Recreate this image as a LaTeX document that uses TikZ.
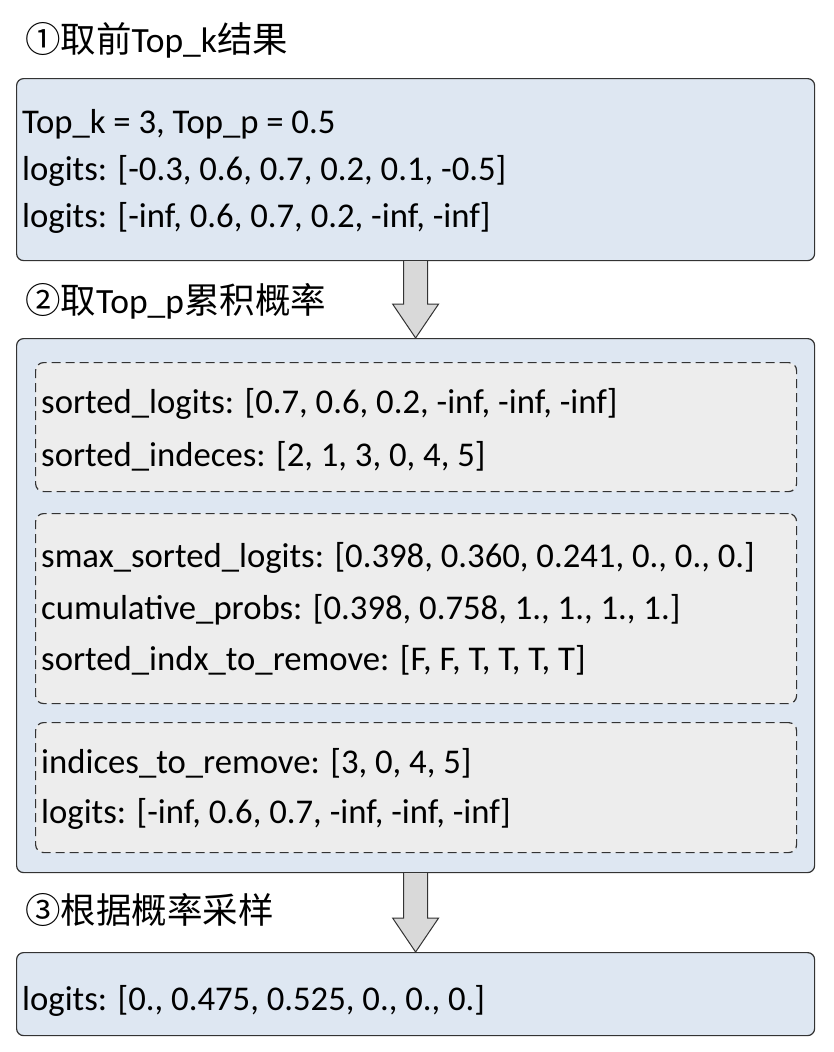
\documentclass[tikz,border=0pt]{standalone}
\usepackage{fontspec}
\setmainfont{Carlito}
\newfontfamily\cjk{Noto Sans CJK SC}
\usetikzlibrary{calc}
\definecolor{boxblue}{HTML}{DEE7F2}
\definecolor{boxgray}{HTML}{EDEDED}
\definecolor{arrowgray}{HTML}{D9D9D9}
\definecolor{edge}{HTML}{333333}
\tikzset{
  bluebox/.style={draw=edge, line width=1.2pt, fill=boxblue, rounded corners=7pt, anchor=north west, inner sep=0pt},
  graybox/.style={draw=edge, line width=1.2pt, fill=boxgray, rounded corners=8pt, anchor=north west, inner sep=0pt, dash pattern=on 9pt off 5pt},
  txt/.style={anchor=base west, inner sep=0pt, font=\fontsize{34.7}{40}\selectfont},
  title/.style={anchor=base west, inner sep=0pt, font=\fontsize{35.5}{40}\selectfont},
  blockarrow/.style={draw=edge, line width=1pt, fill=arrowgray, line join=miter}
}
\begin{document}
\begin{tikzpicture}[x=1pt,y=1pt]
\useasboundingbox[fill=white] (0,0) rectangle (834,-1052);
% titles
\node[title] (t1) at (25,-52) {{\cjk ①取前}Top\_k{\cjk 结果}};
\node[title] (t2) at (25,-313) {{\cjk ②取}Top\_p{\cjk 累积概率}};
\node[title] (t3) at (25,-923) {{\cjk ③根据概率采样}};
% boxes
\node[bluebox, minimum width=798pt, minimum height=182pt] (b1) at (16,-78) {};
\node[bluebox, minimum width=798pt, minimum height=534pt] (b2) at (16,-338) {};
\node[bluebox, minimum width=798pt, minimum height=83pt] (b3) at (16,-952) {};
\node[graybox, minimum width=761pt, minimum height=129pt] (g1) at (35,-362) {};
\node[graybox, minimum width=761pt, minimum height=190pt] (g2) at (35,-513) {};
\node[graybox, minimum width=761pt, minimum height=130pt] (g3) at (35,-722) {};
% box 1 text
\node[txt] (l11) at (22,-133) {Top\_k = 3, Top\_p = 0.5};
\node[txt] (l12) at (22,-180) {logits: [-0.3, 0.6, 0.7, 0.2, 0.1, -0.5]};
\node[txt] (l13) at (22,-227) {logits: [-inf, 0.6, 0.7, 0.2, -inf, -inf]};
% box 2 text
\node[txt] (l21) at (41,-413) {sorted\_logits: [0.7, 0.6, 0.2, -inf, -inf, -inf]};
\node[txt] (l22) at (41,-466) {sorted\_indeces: [2, 1, 3, 0, 4, 5]};
\node[txt] (l23) at (41,-567) {smax\_sorted\_logits: [0.398, 0.360, 0.241, 0., 0., 0.]};
\node[txt] (l24) at (41,-619) {cumulative\_probs: [0.398, 0.758, 1., 1., 1., 1.]};
\node[txt] (l25) at (41,-670) {sorted\_indx\_to\_remove: [F, F, T, T, T, T]};
\node[txt] (l26) at (41,-773) {indices\_to\_remove: [3, 0, 4, 5]};
\node[txt] (l27) at (41,-823) {logits: [-inf, 0.6, 0.7, -inf, -inf, -inf]};
% box 3 text
\node[txt] (l31) at (22,-1010) {logits: [0., 0.475, 0.525, 0., 0., 0.]};
% block arrows
\draw[blockarrow] ($(b1.south)+(-12,0)$) -- ($(b2.north)+(-12,34)$) -- ($(b2.north)+(-23,34)$)
  -- (b2.north) -- ($(b2.north)+(23,34)$) -- ($(b2.north)+(12,34)$) -- ($(b1.south)+(12,0)$);
\draw[blockarrow] ($(b2.south)+(-12,0)$) -- ($(b3.north)+(-12,34)$) -- ($(b3.north)+(-23,34)$)
  -- (b3.north) -- ($(b3.north)+(23,34)$) -- ($(b3.north)+(12,34)$) -- ($(b2.south)+(12,0)$);
\end{tikzpicture}
\end{document}
